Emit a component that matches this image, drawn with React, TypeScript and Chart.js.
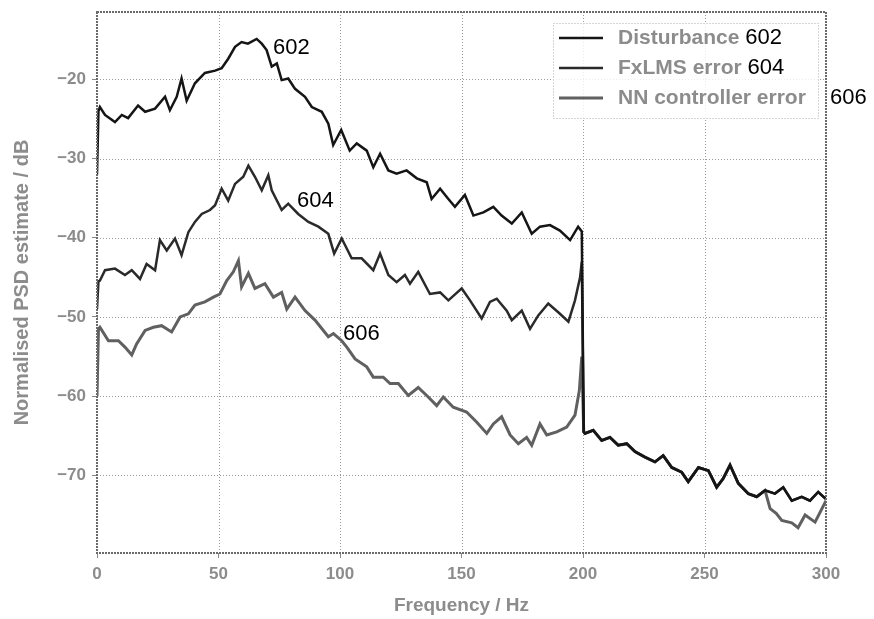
import React, { useEffect, useRef } from "react";
import { Chart, registerables } from "chart.js";

Chart.register(...registerables);

// ---------- data ----------
const distFreq = [0, 0.6, 1.2, 3.3, 7.4, 10.2, 12.8, 16.9, 19.8, 23.9, 28, 30, 32.8, 34.8, 36.9, 40.3, 44.4, 48.6, 51.3, 54, 56.8, 59.5, 62.1, 65.7, 67.8, 69.8, 71.9, 74, 76, 78.7, 81.5, 85.6, 88.4, 92.5, 95.2, 97.2, 100.5, 104, 106.9, 111, 113.7, 116.5, 119.9, 123.3, 127.4, 131.6, 135.7, 137.7, 141.2, 144.6, 147.3, 151.4, 154.9, 159, 163.1, 166.5, 170.7, 174.8, 178.9, 182.3, 186.4, 190.5, 194.7, 198, 199.5, 200.3];
const distPsd = [-32, -24, -23.5, -24.5, -25.4, -24.5, -24.9, -23.3, -24.1, -23.7, -22.2, -23.9, -22.2, -19.9, -22.7, -20.5, -19.2, -18.9, -18.6, -17.4, -15.9, -15.3, -15.5, -14.9, -15.5, -16.3, -18.4, -18, -20.1, -19.9, -21.2, -22.2, -23.5, -24.1, -25.6, -28.3, -26.4, -29, -28.1, -29, -31.1, -29.4, -31.5, -31.9, -31.5, -32.5, -33, -35.1, -33.8, -35.1, -36.1, -34.6, -37.2, -36.8, -36.1, -37.2, -38.2, -36.8, -39.5, -38.6, -38.4, -39.1, -40.3, -38.6, -39.2, -64.5];

const fxFreq = [0, 0.6, 1.2, 3.3, 7.4, 11.5, 14.3, 17.7, 20.4, 23.9, 25.9, 28.7, 32.1, 34.8, 37.6, 40.3, 43.1, 46.5, 48.6, 51.3, 54, 56.8, 60.2, 62.3, 65, 67.8, 70.5, 71.9, 76, 78.7, 82.8, 87, 91.1, 95.2, 97.6, 100.7, 104.8, 108.9, 113.7, 116.5, 119.9, 123.3, 126.7, 128.8, 132.2, 137, 141.2, 144.6, 150.1, 153.5, 158.3, 161.7, 164.5, 168.6, 170.7, 174.8, 178.2, 181.6, 185.7, 190.5, 194, 196.7, 198.8, 199.5, 200.3];
const fxPsd = [-49, -45.5, -45.4, -44.1, -43.9, -44.7, -44.1, -45.2, -43.3, -44.1, -40.3, -41.6, -40.1, -42.2, -39.3, -38, -37, -36.5, -35.9, -33.8, -35.3, -33.2, -32.3, -30.9, -32.3, -34, -32.1, -34, -36.5, -35.7, -37, -38, -38.6, -39.5, -42, -40.1, -42.6, -42.6, -44.1, -42, -44.7, -45.6, -44.7, -45.8, -44.3, -47.1, -46.9, -47.9, -46.4, -47.9, -50.2, -48.1, -47.7, -49.2, -50.4, -49.2, -51.5, -49.8, -48.3, -49.6, -50.6, -47.9, -45, -43, -64.5];

const nnFreq = [0, 0.6, 1.2, 4.7, 8.8, 11.5, 14.3, 16.3, 19.8, 23.2, 26.6, 30.7, 34.2, 37.6, 40.3, 44.4, 47.9, 50.6, 53.4, 56.1, 58.2, 59.5, 62.3, 65, 69.1, 72.6, 76, 78.1, 81.5, 85.6, 89.7, 95.2, 97.3, 100.7, 102.8, 106.2, 111, 113.7, 117.8, 120.6, 124, 128.1, 132.2, 136.3, 139.8, 142.5, 146.6, 152.1, 156.3, 160.4, 163.1, 166.5, 170, 173.4, 176.8, 178.9, 182.3, 185.1, 189.2, 193.3, 196.7, 198.5, 199.5, 200.3];
const nnPsd = [-60, -51.5, -51.3, -53, -53, -53.8, -54.8, -53.4, -51.7, -51.3, -51.1, -51.9, -50, -49.6, -48.5, -48.1, -47.5, -47.1, -45.4, -44.3, -42.9, -46.2, -44.5, -46.4, -45.8, -47.5, -46.9, -49, -47.5, -49.2, -50.4, -52.5, -52.1, -53, -53.8, -55.3, -56.3, -57.6, -57.6, -58.4, -58.4, -59.9, -58.9, -60.1, -61.2, -60.1, -61.4, -62, -63.3, -64.7, -63.5, -62.6, -64.9, -66, -65.2, -66.2, -63.5, -64.9, -64.5, -63.9, -62.4, -59.3, -55, -64.5];

// above 200 Hz all three curves coincide (NN dips near the end)
const highFreq = [200.8, 204.2, 207.7, 211.1, 214.5, 218, 221.4, 225.5, 229.6, 233, 236.5, 240.6, 243.3, 247.5, 251.6, 255, 257.7, 260.5, 263.9, 268, 271.5, 274.9, 279, 282.4, 285.9, 290, 293.4, 296.8, 300];
const highPsd = [-64.7, -64.3, -65.6, -65.2, -66.2, -66, -67, -67.7, -68.3, -67.5, -69, -69.6, -70.8, -69, -69.4, -71.5, -70.4, -68.7, -71, -72.3, -72.7, -71.9, -72.3, -71.5, -73.2, -72.7, -73.2, -72.1, -73];
const nnHighFreq = [200.8, 204.2, 207.7, 211.1, 214.5, 218, 221.4, 225.5, 229.6, 233, 236.5, 240.6, 243.3, 247.5, 251.6, 255, 257.7, 260.5, 263.9, 268, 271.5, 274.9, 277, 279.5, 281.8, 285.9, 288.5, 291.4, 295.5, 300];
const nnHighPsd = [-64.7, -64.3, -65.6, -65.2, -66.2, -66, -67, -67.7, -68.3, -67.5, -69, -69.6, -70.8, -69, -69.4, -71.5, -70.4, -68.7, -71, -72.3, -72.7, -71.9, -74.2, -74.8, -75.7, -76, -76.6, -75, -75.9, -73.2];

const xTicks = [0, 50, 100, 150, 200, 250, 300];
const yTicks = [-70, -60, -50, -40, -30, -20];
const seriesLabels = ["Disturbance", "FxLMS error", "NN controller error"];
const refNumbers = ["602", "604", "606"];
const refFreq = [72.4, 82.3, 101.2];
const refPsd = [-16.0, -35.3, -52.1];

const toPts = (f: number[], v: number[]) => f.map((x, i) => ({ x, y: v[i] }));

const SERIES_COLORS = ["#151515", "#2a2a2a", "#606060"];
const SERIES_WIDTHS = [2.5, 2.5, 3];
const FONT = '"Liberation Sans", Arial, sans-serif';
const TEXT_GRAY = "#8c8c8c";

const decorPlugin = {
  id: "decor",
  beforeDatasetsDraw(chart: any) {
    const { ctx, chartArea: a, scales } = chart;
    const x = scales.x;
    const y = scales.y;
    ctx.save();
    ctx.strokeStyle = "#9a9a9a";
    ctx.lineWidth = 1;
    ctx.setLineDash([1, 2]);
    xTicks.forEach((t) => {
      const px = Math.round(x.getPixelForValue(t)) + 0.5;
      ctx.beginPath();
      ctx.moveTo(px, a.top);
      ctx.lineTo(px, a.bottom);
      ctx.stroke();
    });
    yTicks.forEach((t) => {
      const py = Math.round(y.getPixelForValue(t)) + 0.5;
      ctx.beginPath();
      ctx.moveTo(a.left, py);
      ctx.lineTo(a.right, py);
      ctx.stroke();
    });
    ctx.restore();
  },
  afterDraw(chart: any) {
    const { ctx, chartArea: a, scales } = chart;
    const x = scales.x;
    const y = scales.y;
    ctx.save();
    // frame
    ctx.strokeStyle = "#6a6a6a";
    ctx.lineWidth = 2;
    ctx.setLineDash([2, 1]);
    ctx.strokeRect(a.left, a.top, a.right - a.left, a.bottom - a.top);
    ctx.setLineDash([]);

    // reference numbers on curves
    ctx.fillStyle = "#000";
    ctx.font = `22px ${FONT}`;
    ctx.textAlign = "left";
    ctx.textBaseline = "middle";
    refNumbers.forEach((r, i) => {
      ctx.fillText(r, x.getPixelForValue(refFreq[i]), y.getPixelForValue(refPsd[i]));
    });

    // legend
    const lx = a.right - 273;
    const ly = a.top + 11;
    const lw = 265;
    const lh = 95;
    ctx.fillStyle = "rgba(255,255,255,0.8)";
    ctx.fillRect(lx, ly, lw, lh);
    ctx.strokeStyle = "#aaa";
    ctx.lineWidth = 1;
    ctx.setLineDash([1, 2]);
    ctx.strokeRect(lx + 0.5, ly + 0.5, lw, lh);
    ctx.setLineDash([]);
    seriesLabels.forEach((lab, i) => {
      const cy = ly + 15 + i * 30;
      ctx.strokeStyle = SERIES_COLORS[i];
      ctx.lineWidth = SERIES_WIDTHS[i];
      ctx.beginPath();
      ctx.moveTo(lx + 6, cy);
      ctx.lineTo(lx + 50, cy);
      ctx.stroke();
      ctx.font = `bold 21px ${FONT}`;
      ctx.fillStyle = TEXT_GRAY;
      ctx.textAlign = "left";
      ctx.fillText(lab, lx + 65, cy);
      const w = ctx.measureText(lab + " ").width;
      ctx.font = `22px ${FONT}`;
      ctx.fillStyle = "#000";
      if (i < 2) ctx.fillText(refNumbers[i], lx + 65 + w, cy);
      else ctx.fillText(refNumbers[i], a.right + 4, cy);
    });
    ctx.restore();
  },
};

export default function App() {
  const ref = useRef<HTMLCanvasElement | null>(null);
  useEffect(() => {
    if (!ref.current) return;
    const chart = new Chart(ref.current, {
      type: "line",
      data: {
        datasets: [
          { label: seriesLabels[0], data: toPts(distFreq.concat(highFreq), distPsd.concat(highPsd)) },
          { label: seriesLabels[1], data: toPts(fxFreq.concat(highFreq), fxPsd.concat(highPsd)) },
          { label: seriesLabels[2], data: toPts(nnFreq.concat(nnHighFreq), nnPsd.concat(nnHighPsd)) },
        ].map((d, i) => ({
          ...d,
          borderColor: SERIES_COLORS[i],
          backgroundColor: SERIES_COLORS[i],
          borderWidth: SERIES_WIDTHS[i],
          pointRadius: 0,
          tension: 0,
          fill: false,
        })),
      },
      options: {
        responsive: false,
        animation: false,
        events: [],
        layout: { padding: { top: 12, right: 48, left: 0, bottom: 0 } },
        plugins: { legend: { display: false }, tooltip: { enabled: false } },
        scales: {
          x: {
            type: "linear",
            min: 0,
            max: 300,
            afterBuildTicks: (s: any) => {
              s.ticks = xTicks.map((v) => ({ value: v }));
            },
            afterFit: (s: any) => {
              s.height = 66;
              s.paddingLeft = 0;
              s.paddingRight = 0;
            },
            grid: { drawOnChartArea: false, drawTicks: true, tickLength: 5, tickColor: "#888" },
            border: { display: false },
            ticks: { color: TEXT_GRAY, font: { family: FONT, size: 17, weight: "bold" }, padding: 6, maxRotation: 0 },
            title: { display: true, text: "Frequency / Hz", color: TEXT_GRAY, font: { family: FONT, size: 19, weight: "bold" }, padding: { top: 2, bottom: 2 } },
          },
          y: {
            type: "linear",
            min: -79.8,
            max: -11.5,
            afterBuildTicks: (s: any) => {
              s.ticks = yTicks.map((v) => ({ value: v }));
            },
            afterFit: (s: any) => {
              s.width = 97;
              s.paddingTop = 0;
              s.paddingBottom = 0;
            },
            grid: { drawOnChartArea: false, drawTicks: true, tickLength: 5, tickColor: "#888" },
            border: { display: false },
            ticks: {
              color: TEXT_GRAY,
              font: { family: FONT, size: 17, weight: "bold" },
              padding: 6,
              callback: (v: any) => (v < 0 ? "\u2212" + Math.abs(v) : String(v)),
            },
            title: { display: true, text: "Normalised PSD estimate / dB", color: TEXT_GRAY, font: { family: FONT, size: 20, weight: "bold" }, padding: { top: 10, bottom: 4 } },
          },
        },
      },
      plugins: [decorPlugin],
    });
    return () => chart.destroy();
  }, []);
  return (
    <div style={{ position: "fixed", left: 0, top: 0, width: 874, height: 619, background: "#fff" }}>
      <canvas ref={ref} width={874} height={619} style={{ display: "block" }} />
    </div>
  );
}
